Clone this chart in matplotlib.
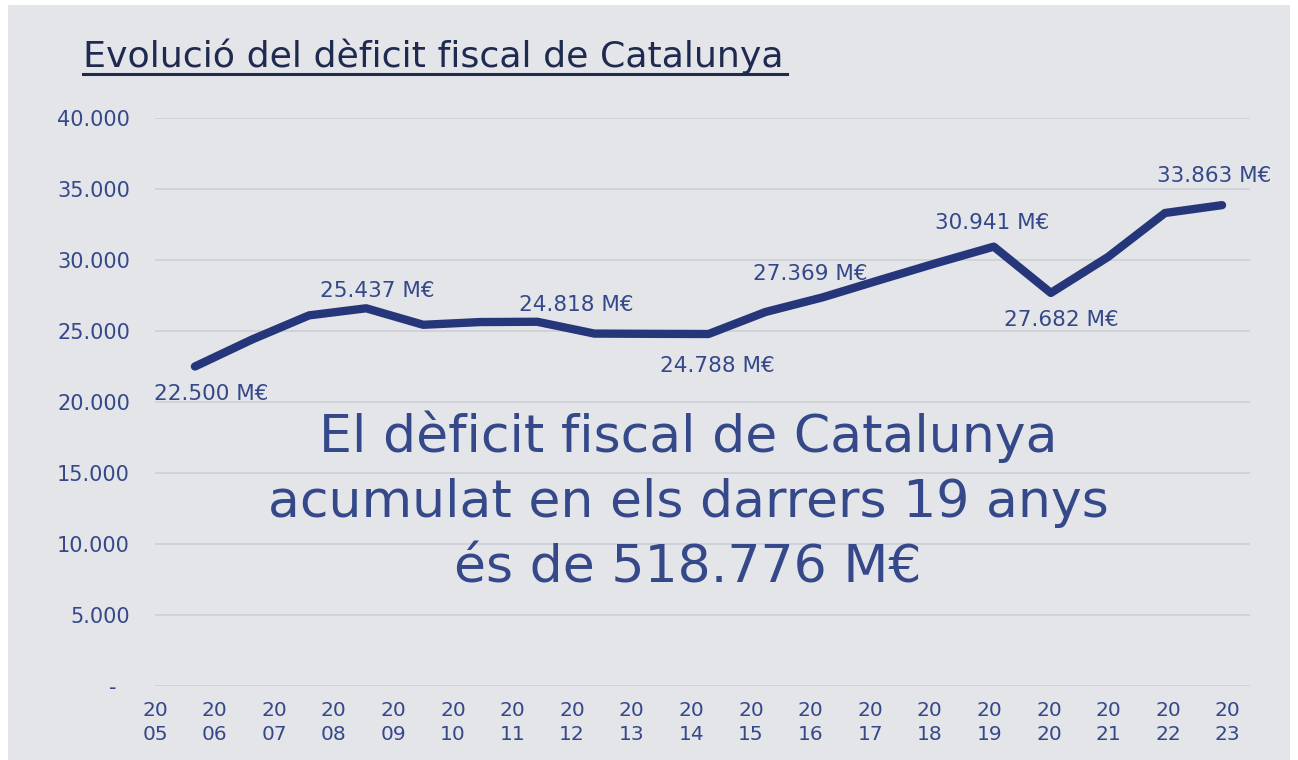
import matplotlib
matplotlib.use('Agg')
import matplotlib.pyplot as plt
from matplotlib.lines import Line2D
from matplotlib.patches import Rectangle
import numpy as np

years = [str(y) for y in range(2005, 2024)]
deficit = [22500, 24400, 26100, 26600, 25437, 25630, 25650, 24818, 24800, 24788,
           26340, 27369, 28590, 29790, 30941, 27682, 30210, 33310, 33863]
labelled = [0, 4, 7, 9, 11, 14, 15, 18]
yticks = [0, 5000, 10000, 15000, 20000, 25000, 30000, 35000, 40000]
title = 'Evolució del dèficit fiscal de Catalunya'
message = 'El dèficit fiscal de Catalunya\nacumulat en els darrers 19 anys\nés de 518.776 M€'

# label offsets in pixels (dx, dy) for the labelled points
offsets = [(16, -28), (-46, 34), (-18, 29), (9, -32), (-12, 23), (-2, 24), (10, -27), (-8, 29)]

navy = '#26367a'
text_c = '#34488a'
bg = '#e4e5e8'

W, H = 1298, 760
fig = plt.figure(figsize=(W / 100, H / 100), dpi=100, facecolor='white')
fig.add_artist(Rectangle((8 / W, 0), (1290 - 8) / W, (H - 5) / H,
                         transform=fig.transFigure, facecolor=bg, edgecolor='none', zorder=0))

ax = fig.add_axes([155 / W, (H - 686) / H, (1250 - 155) / W, (686 - 118) / H])
ax.set_facecolor('none')

def fmt(v):
    return '{:,}'.format(v).replace(',', '.')

x = np.arange(len(years))
ax.plot(x, deficit, color=navy, lw=6, solid_capstyle='round', solid_joinstyle='round', zorder=3)

for i, (dx, dy) in zip(labelled, offsets):
    ax.annotate(fmt(deficit[i]) + ' M€', (x[i], deficit[i]), xytext=(dx, dy),
                textcoords='offset pixels', ha='center', va='center',
                fontsize=15.5, color=text_c, zorder=4)

ax.set_ylim(0, 40000)
ax.set_xlim(-0.485, 18.49)
ax.set_yticks(yticks)
ax.set_yticklabels([fmt(v) if v else '-  ' for v in yticks], fontsize=15, color=text_c)
ax.grid(axis='y', color='#cdd0d8', lw=1.3)
ax.set_axisbelow(True)

# the year labels in the source sit on their own, slightly wider spacing
ax.set_xticks(np.linspace(-0.7, 18.1, len(years)))
ax.set_xticklabels([y[:2] + '\n' + y[2:] for y in years], fontsize=14.5, color=text_c, linespacing=1.3)
ax.tick_params(length=0)
ax.tick_params(axis='y', pad=18)
ax.tick_params(axis='x', pad=11)
for s in ax.spines.values():
    s.set_visible(False)

fig.text(83 / W, 1 - 67 / H, title, fontsize=26.2, color='#1f2a50', ha='left', va='baseline')
fig.add_artist(Line2D([83 / W, 787 / W], [1 - 74 / H, 1 - 74 / H], color='#1f2a50', lw=2.2))

fig.text(688 / W, 1 - 502 / H, message, fontsize=37.5, color=text_c, ha='center', va='center',
         linespacing=1.4)

fig.savefig('out.png', dpi=100, facecolor='white')
